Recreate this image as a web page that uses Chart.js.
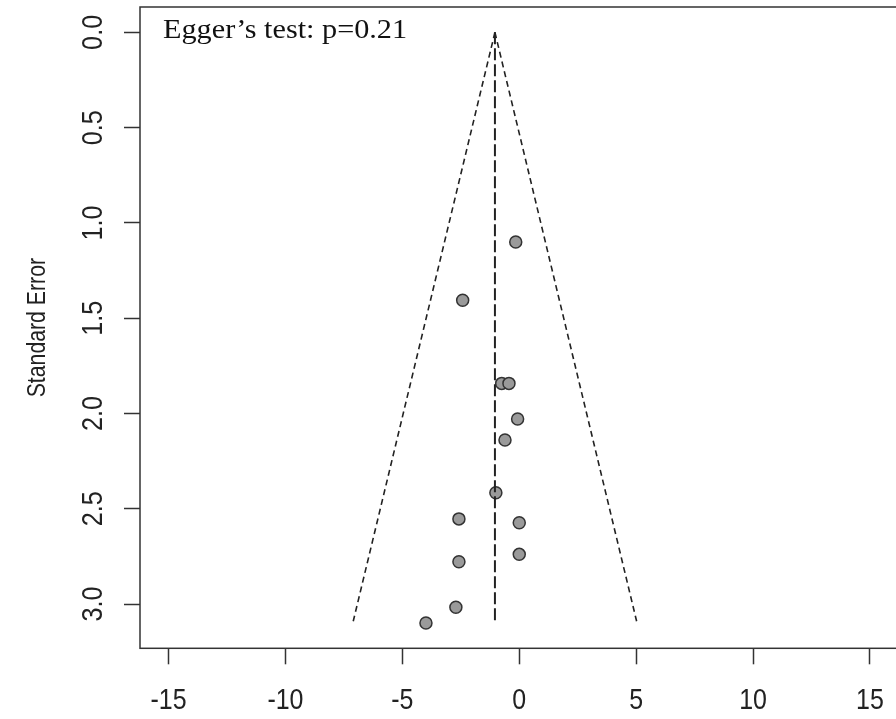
<!DOCTYPE html>
<html>
<head>
<meta charset="utf-8">
<script src="https://cdn.jsdelivr.net/npm/chart.js@4.4.1/dist/chart.umd.min.js"></script>
<style>
  html, body { margin: 0; padding: 0; background: #fff; overflow: hidden; }
  #wrap { width: 900px; height: 719px; }
</style>
</head>
<body>
<div id="wrap"><canvas id="funnel" width="900" height="719"></canvas></div>
<script>
// effect sizes (x) and standard errors (y)
const effects = [-0.15, -2.42, -0.75, -0.44, -0.07, -0.61, -1.0, -2.58, 0.0, 0.0, -2.58, -2.71, -3.99];
const stdErrors = [1.10, 1.406, 1.842, 1.842, 2.029, 2.139, 2.416, 2.553, 2.573, 2.739, 2.778, 3.017, 3.099];

// pooled estimate line and funnel edges
const pooled = [{ x: -1.04, y: 0 }, { x: -1.04, y: 3.09 }];
const funnelLeft = [{ x: -1.04, y: 0 }, { x: -7.1, y: 3.09 }];
const funnelRight = [{ x: -1.04, y: 0 }, { x: 5.02, y: 3.09 }];

const xTicks = [-15, -10, -5, 0, 5, 10, 15];
const yTicks = [0, 0.5, 1, 1.5, 2, 2.5, 3];
const yTitle = "Standard Error";
const eggerText = "Egger\u2019s test: p=0.21";

const sans = "'Liberation Sans', Arial, sans-serif";
const ink = "#333";

const points = effects.map((e, i) => ({ x: e, y: stdErrors[i] }));

// texto com compressao horizontal (o original parece esticado)
function squeezed(c, txt, x, y, rot, sx) {
    c.save();
    c.translate(x, y);
    c.rotate(rot);
    c.scale(sx, 1);
    c.fillText(txt, 0, 0);
    c.restore();
}

// frame, tick labels, axis title and Egger annotation
const extras = {
    id: "extras",
    afterDraw(chart) {
        const c = chart.ctx, a = chart.chartArea, xs = chart.scales.x, ys = chart.scales.y;
        c.save();
        c.strokeStyle = ink;
        c.lineWidth = 1.5;
        c.strokeRect(a.left, a.top, a.right - a.left, a.bottom - a.top);

        c.fillStyle = "#222";
        c.font = "29px " + sans;
        c.textAlign = "center";
        c.textBaseline = "alphabetic";
        xTicks.forEach((v) => squeezed(c, String(v), xs.getPixelForValue(v), 709, 0, 0.86));
        yTicks.forEach((v) => squeezed(c, v.toFixed(1), 102, ys.getPixelForValue(v), -Math.PI / 2, 0.87));

        c.font = "25px " + sans;
        squeezed(c, yTitle, 45, (a.top + a.bottom) / 2, -Math.PI / 2, 0.85);

        c.fillStyle = "#111";
        c.font = "27px 'Liberation Serif', 'Times New Roman', serif";
        c.textAlign = "left";
        squeezed(c, eggerText, 163, 38, 0, 1.12);
        c.restore();
    },
};

new Chart(document.getElementById("funnel"), {
    type: "scatter",
    data: {
        datasets: [
            { type: "line", data: funnelLeft, borderColor: "#222", borderWidth: 1.6, borderDash: [6, 4], pointRadius: 0, fill: false },
            { type: "line", data: funnelRight, borderColor: "#222", borderWidth: 1.6, borderDash: [6, 4], pointRadius: 0, fill: false },
            { type: "line", data: pooled, borderColor: "#222", borderWidth: 2, borderDash: [12, 4], pointRadius: 0, fill: false },
            { data: points, backgroundColor: "#9a9a9a", borderColor: ink, borderWidth: 1.5, pointRadius: 6, pointHoverRadius: 6, clip: false },
        ],
    },
    options: {
        responsive: false,
        animation: false,
        layout: { autoPadding: false, padding: { top: 7, right: 1.5, left: 0, bottom: 0 } },
        plugins: { legend: { display: false }, tooltip: { enabled: false } },
        scales: {
            x: {
                type: "linear",
                min: -16.22,
                max: 16.22,
                afterBuildTicks: (s) => { s.ticks = xTicks.map((v) => ({ value: v })); },
                afterFit: (s) => { s.height = 70.7; s.paddingLeft = 0; s.paddingRight = 0; },
                grid: { display: true, drawOnChartArea: false, drawTicks: true, tickLength: 16, tickWidth: 1.5, tickColor: ink },
                border: { display: false },
                ticks: { display: false },
            },
            y: {
                type: "linear",
                reverse: true,
                min: -0.133,
                max: 3.232,
                afterBuildTicks: (s) => { s.ticks = yTicks.map((v) => ({ value: v })); },
                afterFit: (s) => { s.width = 140; s.paddingTop = 0; s.paddingBottom = 0; },
                grid: { display: true, drawOnChartArea: false, drawTicks: true, tickLength: 16, tickWidth: 1.5, tickColor: ink },
                border: { display: false },
                ticks: { display: false },
            },
        },
    },
    plugins: [extras],
});
</script>
</body>
</html>
